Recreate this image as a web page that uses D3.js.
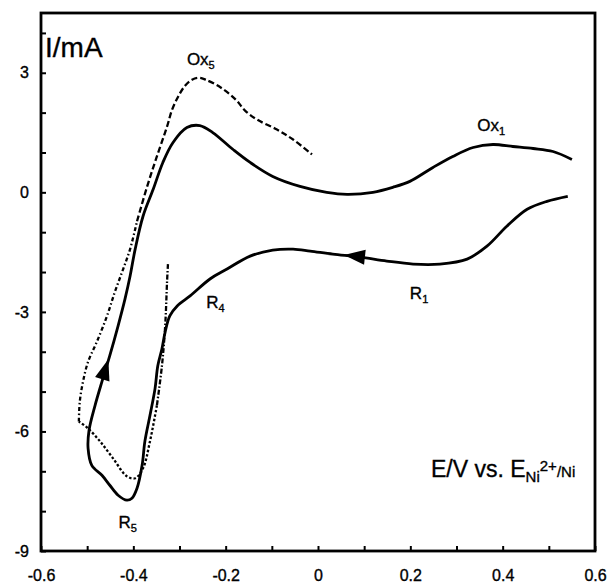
<!DOCTYPE html>
<html><head><meta charset="utf-8">
<script src="https://cdn.jsdelivr.net/npm/d3@7"></script>
<style>
body{margin:0;background:#fff;}
text{font-family:"Liberation Sans",Arial,sans-serif;fill:#000;stroke:#000;stroke-width:0.35px;}
</style></head>
<body><svg id="c" width="608" height="584"></svg>
<script>
// ---- data (E in V vs Ni2+/Ni, I in mA) ----
const solidE = [0.541,0.496,0.453,0.409,0.366,0.323,0.264,0.206,0.149,0.091,0.032,-0.017,-0.054,-0.098,-0.147,-0.197,-0.234,-0.277,-0.305,-0.321,-0.331,-0.338,-0.347,-0.353,-0.364,-0.375,-0.381,-0.392,-0.403,-0.414,-0.433,-0.451,-0.468,-0.490,-0.498,-0.496,-0.483,-0.468,-0.451,-0.433,-0.418,-0.407,-0.396,-0.379,-0.357,-0.336,-0.314,-0.284,-0.256,-0.228,-0.184,-0.147,-0.098,-0.039,0.019,0.063,0.119,0.162,0.199,0.249,0.292,0.336,0.379,0.422,0.466,0.509,0.550];
const solidI = [-0.1,-0.225,-0.425,-0.85,-1.35,-1.675,-1.8,-1.8,-1.725,-1.625,-1.55,-1.475,-1.425,-1.45,-1.6,-1.925,-2.175,-2.6,-2.85,-3.1,-3.5,-3.925,-4.35,-4.925,-5.6,-6.25,-6.85,-7.425,-7.675,-7.725,-7.6,-7.35,-7.1,-6.85,-6.425,-5.975,-5.35,-4.75,-4.1,-3.35,-2.675,-2.1,-1.425,-0.6,0.075,0.75,1.25,1.625,1.675,1.5,1.075,0.75,0.4,0.15,0,-0.05,0,0.125,0.275,0.625,0.9,1.125,1.2,1.15,1.1,1.025,0.825];
const dashE = [-0.325,-0.327,-0.331,-0.338,-0.349,-0.364,-0.379,-0.396,-0.414,-0.444,-0.472,-0.498,-0.518,-0.516,-0.509,-0.498,-0.479,-0.457,-0.440,-0.422,-0.407,-0.392,-0.370,-0.349,-0.327,-0.316,-0.303,-0.288,-0.273,-0.258,-0.243,-0.210,-0.178,-0.158,-0.132,-0.089,-0.054,-0.013];
const dashI = [-1.8,-2.25,-3.35,-4.35,-5.35,-6.25,-6.925,-7.175,-7.125,-6.675,-6.25,-5.925,-5.75,-5.25,-4.75,-4.25,-3.75,-3.1,-2.5,-1.925,-1.425,-0.725,0.15,0.9,1.65,2.075,2.4,2.675,2.825,2.875,2.825,2.625,2.325,2.05,1.825,1.575,1.325,0.95];
// dash-style segments of the dashed sweep (start index, end index, pattern)
const dashSegments = [[0,4,"5,2,1.5,2"],[4,12,"2.5,2"],[12,21,"4,2.5,1.5,2.5"],[21,37,"6,3"]];
const arrowE = [0.080,-0.461];
const arrowI = [-1.60,-4.45];
const xTicks = [-0.6,-0.5,-0.4,-0.3,-0.2,-0.1,0,0.1,0.2,0.3,0.4,0.5,0.6];
const xTickLabels = ["-0.6","","-0.4","","-0.2","","0","","0.2","","0.4","","0.6"];
const yTicks = [-9,-8,-7,-6,-5,-4,-3,-2,-1,0,1,2,3,4];
const yTickLabels = ["-9","","","-6","","","-3","","","0","","","3",""];
const peakLabels = ["Ox","Ox","R","R","R"];
const peakSubs = ["5","1","1","4","5"];
const peakE = [-0.284,0.345,0.199,-0.242,-0.432];
const peakI = [3.20,1.55,-2.68,-2.90,-8.42];

// ---- drawing ----
const svg = d3.select("#c");
const L=41,R=595,T=13,B=551;
const x = d3.scaleLinear().domain([-0.6,0.6]).range([L,R]);
const y = d3.scaleLinear().domain([-9,4.5]).range([B,T]);

const xa = svg.append("g").attr("transform",`translate(0,${B})`)
  .call(d3.axisBottom(x).tickValues(xTicks).tickSizeInner(-5).tickSizeOuter(0).tickPadding(19)
    .tickFormat((d,i)=>xTickLabels[i]));
const ya = svg.append("g").attr("transform",`translate(${L},0)`)
  .call(d3.axisLeft(y).tickValues(yTicks).tickSizeInner(-5).tickSizeOuter(0).tickPadding(12)
    .tickFormat((d,i)=>yTickLabels[i]));
[xa,ya].forEach(g=>{
  g.select(".domain").remove();
  g.selectAll("line").attr("stroke","#000").attr("stroke-width",2);
  g.selectAll("text").attr("font-size",16).attr("font-family","Liberation Sans, Arial, sans-serif");
});
svg.append("rect").attr("x",L).attr("y",T).attr("width",R-L).attr("height",B-T)
  .attr("fill","none").attr("stroke","#000").attr("stroke-width",2.8);

const line = d3.line().x(d=>x(d[0])).y(d=>y(d[1])).curve(d3.curveCatmullRom.alpha(0.5));
const solid = solidE.map((e,i)=>[e,solidI[i]]);
const dashed = dashE.map((e,i)=>[e,dashI[i]]);
svg.append("path").attr("d",line(solid)).attr("fill","none").attr("stroke","#000").attr("stroke-width",2.8)
  .attr("stroke-linejoin","round");
dashSegments.forEach(s=>{
  svg.append("path").attr("d",line(dashed.slice(s[0],s[1]+1))).attr("fill","none")
    .attr("stroke","#000").attr("stroke-width",2.3).attr("stroke-dasharray",s[2]);
});

// arrows oriented along the sweep direction of the solid curve
const sp = solid.map(d=>[x(d[0]),y(d[1])]);
arrowE.forEach((e,k)=>{
  const px=x(e), py=y(arrowI[k]);
  let best=0,bd=1e9;
  for(let i=0;i<sp.length-1;i++){
    const mx=(sp[i][0]+sp[i+1][0])/2,my=(sp[i][1]+sp[i+1][1])/2;
    const dd=(mx-px)**2+(my-py)**2; if(dd<bd){bd=dd;best=i;}
  }
  const ang=Math.atan2(sp[best+1][1]-sp[best][1],sp[best+1][0]-sp[best][0])*180/Math.PI;
  svg.append("path").attr("d","M11,0 L-10,-7.5 L-10,7.5 Z").attr("fill","#000")
    .attr("transform",`translate(${px},${py}) rotate(${ang})`);
});

// peak labels
peakLabels.forEach((t,i)=>{
  const tx=svg.append("text").attr("x",x(peakE[i])).attr("y",y(peakI[i])).attr("font-size",17);
  tx.append("tspan").text(t);
  tx.append("tspan").attr("font-size",11).attr("dy",4).text(peakSubs[i]);
});

// axis titles
svg.append("text").attr("x",45).attr("y",57).attr("font-size",28).text("I/mA");
const et=svg.append("text").attr("x",431).attr("y",477).attr("font-size",23);
et.append("tspan").text("E/V vs. E");
et.append("tspan").attr("font-size",15).attr("dy",5).text("Ni");
et.append("tspan").attr("font-size",15).attr("dy",-11).text("2+");
et.append("tspan").attr("font-size",15).attr("dy",6).text("/Ni");
</script></body></html>
